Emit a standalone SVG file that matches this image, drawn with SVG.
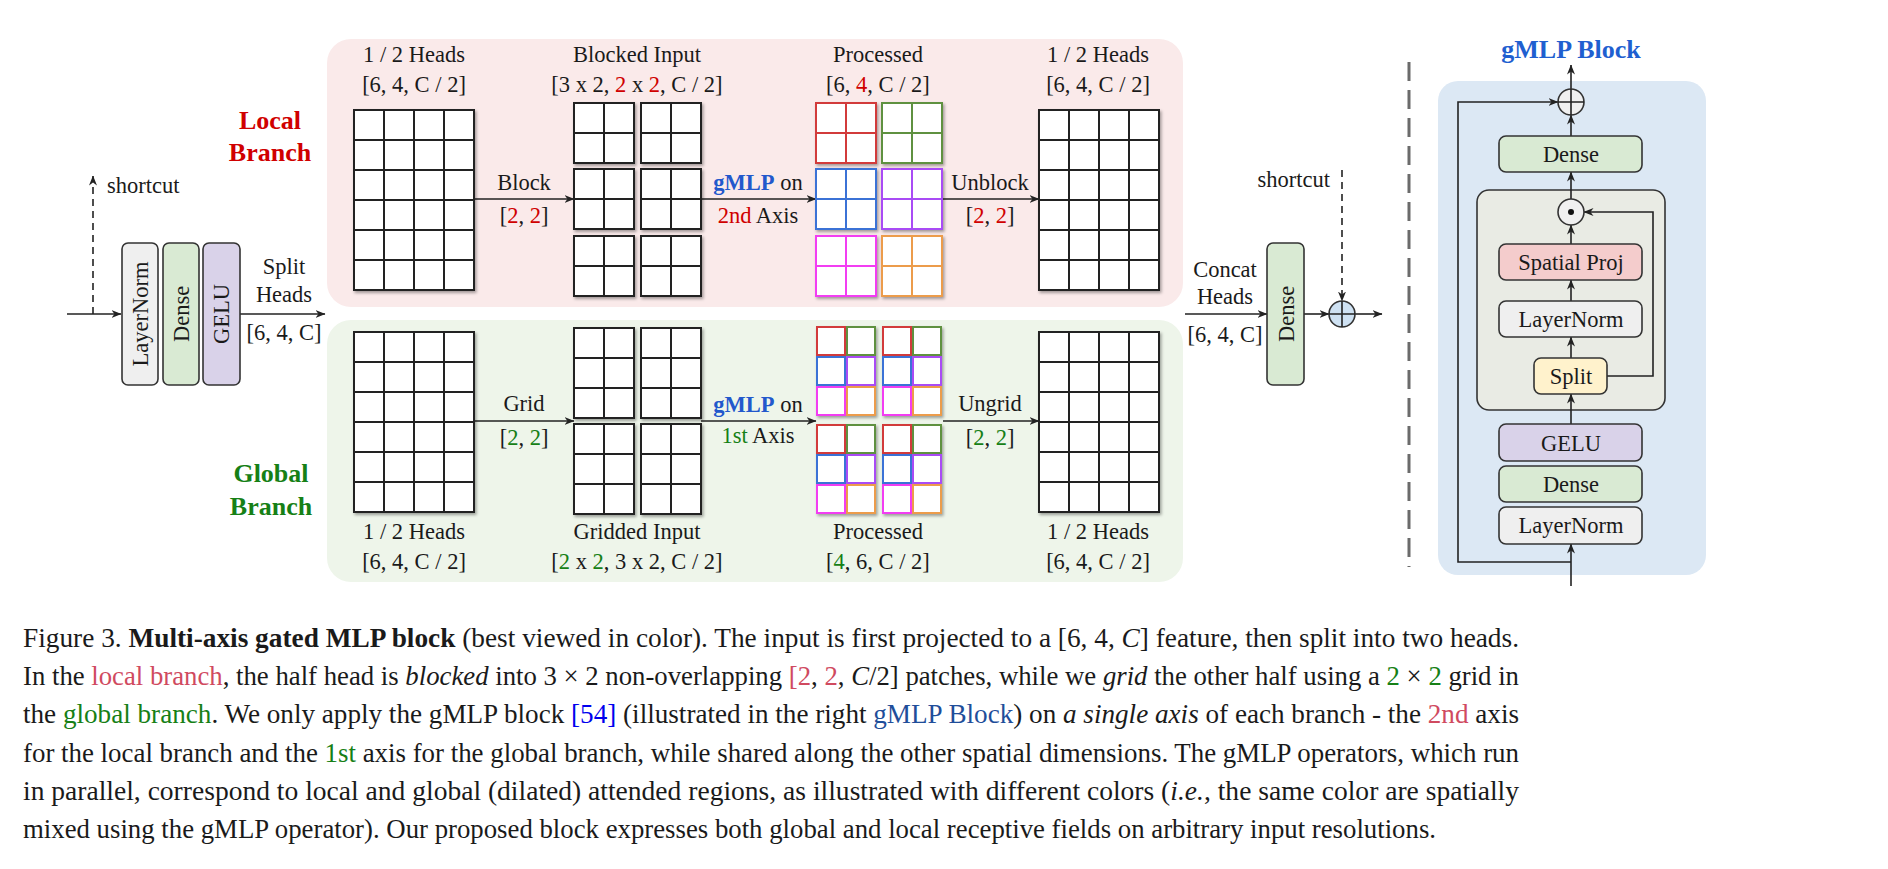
<svg xmlns="http://www.w3.org/2000/svg" xmlns:xlink="http://www.w3.org/1999/xlink" width="1888" height="869" viewBox="0 0 1888 869">
<style>
text{font-family:"Liberation Serif","Times New Roman",serif;fill:#1a1a1a}
.lb{font-size:22.5px;text-anchor:middle}
.br{font-size:26px;font-weight:bold;text-anchor:middle}
.cap{font-size:27.5px}
.r{fill:#d00000}
.g{fill:#168016}
.gm{fill:#2258cc;font-weight:bold}
.box{stroke:#333;stroke-width:1.6}
.ln{stroke:#222;stroke-width:1.6;fill:none}
.dash{stroke:#222;stroke-width:1.6;fill:none;stroke-dasharray:7 5}
.i{font-style:italic}
</style>
<defs>
<marker id="ah" viewBox="0 0 10 10" refX="9.5" refY="5" markerWidth="10" markerHeight="10" markerUnits="userSpaceOnUse" orient="auto"><path d="M0,1 L10,5 L0,9 L3,5 z" fill="#222"/></marker>
<filter id="sh" x="-10%" y="-10%" width="130%" height="130%"><feDropShadow dx="1.5" dy="2" stdDeviation="1.5" flood-color="#000" flood-opacity="0.35"/></filter>
<g id="big" filter="url(#sh)"><rect x="0" y="0" width="120" height="180" fill="#fff"/><path d="M30,0V180M60,0V180M90,0V180M0,30H120M0,60H120M0,90H120M0,120H120M0,150H120" fill="none"/><rect x="0" y="0" width="120" height="180" fill="none"/></g>
<g id="b22" filter="url(#sh)"><rect x="0" y="0" width="60" height="60" fill="#fff"/><path d="M30,0V60M0,30H60" fill="none"/></g>
<g id="b23" filter="url(#sh)"><rect x="0" y="0" width="60" height="90" fill="#fff"/><path d="M30,0V90M0,30H60M0,60H60" fill="none"/></g>
<g id="gc" filter="url(#sh)" fill="#fff" stroke-width="2">
<rect x="1" y="1" width="28" height="28" stroke="#d23a3a"/><rect x="31" y="1" width="28" height="28" stroke="#5e9140"/>
<rect x="1" y="31" width="28" height="28" stroke="#3a72d6"/><rect x="31" y="31" width="28" height="28" stroke="#a94cf5"/>
<rect x="1" y="61" width="28" height="28" stroke="#f23cf2"/><rect x="31" y="61" width="28" height="28" stroke="#ec9c4c"/>
</g>
</defs>
<rect width="1888" height="869" fill="#fff"/>

<g id="panels">
<rect id="local-panel" x="327" y="39" width="856" height="268" rx="24" fill="#faeaea"/>
<rect id="global-panel" x="327" y="320" width="856" height="262" rx="24" fill="#eef5ea"/>
<rect id="gmlp-panel" x="1438" y="81" width="268" height="494" rx="20" fill="#dce8f4"/>
<rect id="gating-unit" class="box" x="1477" y="190" width="188" height="220" rx="12" fill="#e9ebe4"/>
</g>

<g id="branch-labels">
<text class="br r" x="270" y="129">Local</text>
<text class="br r" x="270" y="161">Branch</text>
<text class="br g" x="271" y="482">Global</text>
<text class="br g" x="271" y="515">Branch</text>
</g>

<g id="connectors">
<line class="ln" x1="67" y1="314" x2="121" y2="314" marker-end="url(#ah)"/>
<line class="dash" x1="93" y1="314" x2="93" y2="176" marker-end="url(#ah)"/>
<line class="ln" x1="240" y1="314" x2="325" y2="314" marker-end="url(#ah)"/>
<line class="ln" x1="474" y1="199" x2="574" y2="199" marker-end="url(#ah)"/>
<line class="ln" x1="701" y1="199" x2="816" y2="199" marker-end="url(#ah)"/>
<line class="ln" x1="942" y1="199" x2="1039" y2="199" marker-end="url(#ah)"/>
<line class="ln" x1="474" y1="421" x2="574" y2="421" marker-end="url(#ah)"/>
<line class="ln" x1="701" y1="421" x2="816" y2="421" marker-end="url(#ah)"/>
<line class="ln" x1="943" y1="421" x2="1039" y2="421" marker-end="url(#ah)"/>
<line class="ln" x1="1185" y1="314" x2="1267" y2="314" marker-end="url(#ah)"/>
<line class="ln" x1="1304" y1="314" x2="1329" y2="314" marker-end="url(#ah)"/>
<line class="dash" x1="1342" y1="170" x2="1342" y2="301" marker-end="url(#ah)"/>
<line class="ln" x1="1355" y1="314" x2="1382" y2="314" marker-end="url(#ah)"/>
<line x1="1409" y1="62" x2="1409" y2="567" stroke="#6b6b6b" stroke-width="3" stroke-dasharray="19 9"/>
<line class="ln" x1="1571" y1="586" x2="1571" y2="544" marker-end="url(#ah)"/>
<path class="ln" d="M1571,562 H1458 V102 H1558" marker-end="url(#ah)"/>
<line class="ln" x1="1571" y1="424" x2="1571" y2="394" marker-end="url(#ah)"/>
<line class="ln" x1="1571" y1="358" x2="1571" y2="337" marker-end="url(#ah)"/>
<line class="ln" x1="1571" y1="301" x2="1571" y2="280" marker-end="url(#ah)"/>
<line class="ln" x1="1571" y1="244" x2="1571" y2="225" marker-end="url(#ah)"/>
<line class="ln" x1="1571" y1="199" x2="1571" y2="172" marker-end="url(#ah)"/>
<line class="ln" x1="1571" y1="136" x2="1571" y2="115" marker-end="url(#ah)"/>
<line class="ln" x1="1571" y1="89" x2="1571" y2="65" marker-end="url(#ah)"/>
<path class="ln" d="M1607,376 H1653 V212 H1584" marker-end="url(#ah)"/>
</g>

<g id="input-layers">
<g id="n-layernorm"><rect class="box" x="122" y="243" width="36" height="142" rx="6" fill="#efefef"/><text class="lb" transform="translate(148,314) rotate(-90)">LayerNorm</text></g>
<g id="n-dense"><rect class="box" x="163" y="243" width="36" height="142" rx="6" fill="#d9ead3"/><text class="lb" transform="translate(189,314) rotate(-90)">Dense</text></g>
<g id="n-gelu"><rect class="box" x="203" y="243" width="37" height="142" rx="6" fill="#d9d2e9"/><text class="lb" transform="translate(229,314) rotate(-90)">GELU</text></g>
<text x="107" y="193" style="font-size:22.5px">shortcut</text>
<text class="lb" x="284" y="274">Split</text>
<text class="lb" x="284" y="302">Heads</text>
<text class="lb" x="284" y="340">[6, 4, C]</text>
</g>

<g id="local-branch" stroke="#222" stroke-width="2">
<g id="n-local-in"><use href="#big" x="354" y="110"/></g>
<g id="n-blocked">
<use href="#b22" x="574" y="103"/><use href="#b22" x="641" y="103"/>
<use href="#b22" x="574" y="169"/><use href="#b22" x="641" y="169"/>
<use href="#b22" x="574" y="236"/><use href="#b22" x="641" y="236"/>
</g>
<g id="n-local-proc">
<use href="#b22" x="816" y="103" stroke="#d23a3a"/><use href="#b22" x="882" y="103" stroke="#5e9140"/>
<use href="#b22" x="816" y="169" stroke="#3a72d6"/><use href="#b22" x="882" y="169" stroke="#a94cf5"/>
<use href="#b22" x="816" y="236" stroke="#f23cf2"/><use href="#b22" x="882" y="236" stroke="#ec9c4c"/>
</g>
<g id="n-local-out"><use href="#big" x="1039" y="110"/></g>
</g>

<g id="global-branch" stroke="#222" stroke-width="2">
<g id="n-global-in"><use href="#big" x="354" y="332"/></g>
<g id="n-gridded">
<use href="#b23" x="574" y="328"/><use href="#b23" x="641" y="328"/>
<use href="#b23" x="574" y="424"/><use href="#b23" x="641" y="424"/>
</g>
<g id="n-global-proc">
<use href="#gc" x="816" y="326"/><use href="#gc" x="882" y="326"/>
<use href="#gc" x="816" y="424"/><use href="#gc" x="882" y="424"/>
</g>
<g id="n-global-out"><use href="#big" x="1039" y="332"/></g>
</g>

<g id="labels">
<text class="lb" x="414" y="62">1 / 2 Heads</text>
<text class="lb" x="414" y="92">[6, 4, C / 2]</text>
<text class="lb" x="637" y="62">Blocked Input</text>
<text class="lb" x="637" y="92">[3 x 2, <tspan class="r">2</tspan> x <tspan class="r">2</tspan>, C / 2]</text>
<text class="lb" x="878" y="62">Processed</text>
<text class="lb" x="878" y="92">[6, <tspan class="r">4</tspan>, C / 2]</text>
<text class="lb" x="1098" y="62">1 / 2 Heads</text>
<text class="lb" x="1098" y="92">[6, 4, C / 2]</text>
<text class="lb" x="524" y="190">Block</text>
<text class="lb" x="524" y="223">[<tspan class="r">2</tspan>, <tspan class="r">2</tspan>]</text>
<text class="lb" x="758" y="190"><tspan class="gm">gMLP</tspan> on</text>
<text class="lb" x="758" y="223"><tspan class="r">2nd</tspan> Axis</text>
<text class="lb" x="990" y="190">Unblock</text>
<text class="lb" x="990" y="223">[<tspan class="r">2</tspan>, <tspan class="r">2</tspan>]</text>
<text class="lb" x="524" y="411">Grid</text>
<text class="lb" x="524" y="445">[<tspan class="g">2</tspan>, <tspan class="g">2</tspan>]</text>
<text class="lb" x="758" y="412"><tspan class="gm">gMLP</tspan> on</text>
<text class="lb" x="758" y="443"><tspan class="g">1st</tspan> Axis</text>
<text class="lb" x="990" y="411">Ungrid</text>
<text class="lb" x="990" y="445">[<tspan class="g">2</tspan>, <tspan class="g">2</tspan>]</text>
<text class="lb" x="414" y="539">1 / 2 Heads</text>
<text class="lb" x="414" y="569">[6, 4, C / 2]</text>
<text class="lb" x="637" y="539">Gridded Input</text>
<text class="lb" x="637" y="569">[<tspan class="g">2</tspan> x <tspan class="g">2</tspan>, 3 x 2, C / 2]</text>
<text class="lb" x="878" y="539">Processed</text>
<text class="lb" x="878" y="569">[<tspan class="g">4</tspan>, 6, C / 2]</text>
<text class="lb" x="1098" y="539">1 / 2 Heads</text>
<text class="lb" x="1098" y="569">[6, 4, C / 2]</text>
</g>

<g id="output-layers">
<text class="lb" x="1225" y="277">Concat</text>
<text class="lb" x="1225" y="304">Heads</text>
<text class="lb" x="1225" y="342">[6, 4, C]</text>
<g id="n-dense-out"><rect class="box" x="1267" y="243" width="37" height="142" rx="6" fill="#d9ead3"/><text class="lb" transform="translate(1294,314) rotate(-90)">Dense</text></g>
<g id="n-add-out"><circle class="box" cx="1342" cy="314" r="13" fill="#cfe2f3"/><path class="ln" d="M1329,314H1355M1342,301V327"/></g>
<text x="1330" y="187" style="font-size:22.5px;text-anchor:end">shortcut</text>
</g>

<g id="gmlp-block">
<text class="br" x="1571" y="58" style="fill:#1f5fd0">gMLP Block</text>
<g id="n-add"><circle class="box" cx="1571" cy="102" r="13" fill="#f0f0f0"/><path class="ln" d="M1558,102H1584M1571,89V115"/></g>
<g id="n-g-dense2"><rect class="box" x="1499" y="136" width="143" height="36" rx="7" fill="#d9ead3"/><text class="lb" x="1571" y="162">Dense</text></g>
<g id="n-mul"><circle class="box" cx="1571" cy="212" r="13" fill="#f0f0f0"/><circle cx="1571" cy="212" r="3" fill="#111"/></g>
<g id="n-spatial"><rect class="box" x="1499" y="244" width="143" height="36" rx="7" fill="#f4cccc"/><text class="lb" x="1571" y="270">Spatial Proj</text></g>
<g id="n-g-ln2"><rect class="box" x="1499" y="301" width="143" height="36" rx="7" fill="#efefef"/><text class="lb" x="1571" y="327">LayerNorm</text></g>
<g id="n-split"><rect class="box" x="1534" y="358" width="73" height="36" rx="7" fill="#fff2cc"/><text class="lb" x="1571" y="384">Split</text></g>
<g id="n-g-gelu"><rect class="box" x="1499" y="424" width="143" height="37" rx="7" fill="#d9d2e9"/><text class="lb" x="1571" y="451">GELU</text></g>
<g id="n-g-dense1"><rect class="box" x="1499" y="466" width="143" height="36" rx="7" fill="#d9ead3"/><text class="lb" x="1571" y="492">Dense</text></g>
<g id="n-g-ln1"><rect class="box" x="1499" y="507" width="143" height="37" rx="7" fill="#efefef"/><text class="lb" x="1571" y="533">LayerNorm</text></g>
</g>

<g id="caption">
<text class="cap" x="23" y="647" textLength="1496" lengthAdjust="spacingAndGlyphs">Figure 3. <tspan font-weight="bold">Multi-axis gated MLP block</tspan> (best viewed in color). The input is first projected to a [6, 4, <tspan class="i">C</tspan>] feature, then split into two heads.</text>
<text class="cap" x="23" y="685" textLength="1496" lengthAdjust="spacingAndGlyphs">In the <tspan style="fill:#d04a5f">local branch</tspan>, the half head is <tspan class="i">blocked</tspan> into 3 × 2 non-overlapping <tspan style="fill:#d04a5f">[2</tspan>, <tspan style="fill:#d04a5f">2</tspan>, <tspan class="i">C</tspan>/2] patches, while we <tspan class="i">grid</tspan> the other half using a <tspan style="fill:#168016">2</tspan> × <tspan style="fill:#168016">2</tspan> grid in</text>
<text class="cap" x="23" y="723" textLength="1496" lengthAdjust="spacingAndGlyphs">the <tspan style="fill:#168016">global branch</tspan>. We only apply the gMLP block <tspan style="fill:#0000ee">[54]</tspan> (illustrated in the right <tspan style="fill:#1f4e9a">gMLP Block</tspan>) on <tspan class="i">a single axis</tspan> of each branch - the <tspan style="fill:#d04a5f">2nd</tspan> axis</text>
<text class="cap" x="23" y="762" textLength="1496" lengthAdjust="spacingAndGlyphs">for the local branch and the <tspan style="fill:#168016">1st</tspan> axis for the global branch, while shared along the other spatial dimensions. The gMLP operators, which run</text>
<text class="cap" x="23" y="800" textLength="1496" lengthAdjust="spacingAndGlyphs">in parallel, correspond to local and global (dilated) attended regions, as illustrated with different colors (<tspan class="i">i.e.</tspan>, the same color are spatially</text>
<text class="cap" x="23" y="838" textLength="1413" lengthAdjust="spacingAndGlyphs">mixed using the gMLP operator). Our proposed block expresses both global and local receptive fields on arbitrary input resolutions.</text>
</g>
</svg>
